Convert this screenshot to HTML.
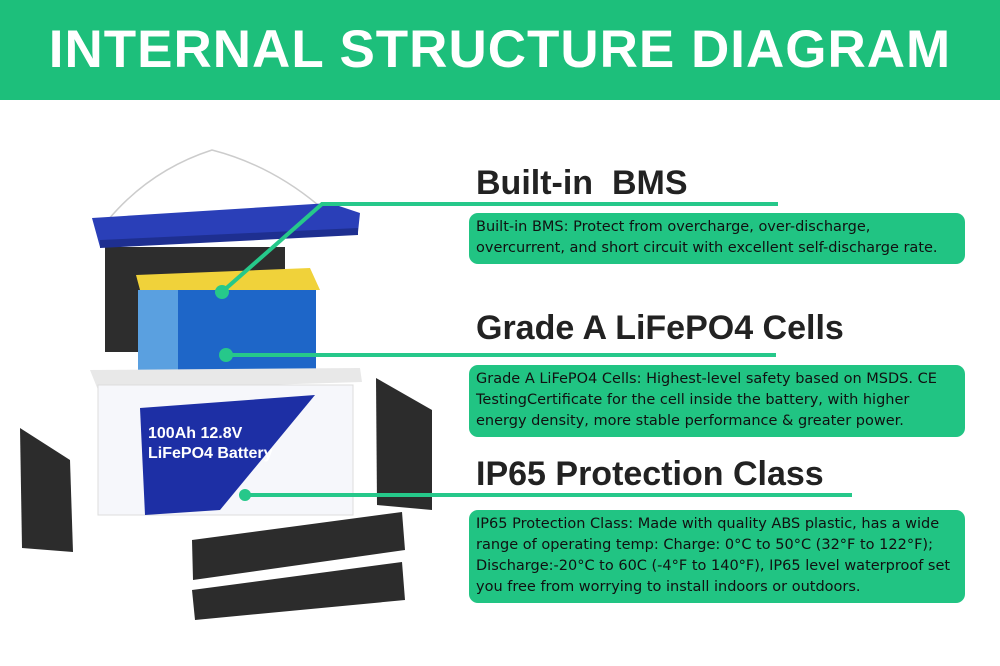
<!DOCTYPE html>
<html><head><meta charset="utf-8"><style>
body{margin:0;width:1000px;height:666px;position:relative;background:#fff;overflow:hidden;font-family:"Liberation Sans",sans-serif}
.hdr{position:absolute;left:0;top:0;width:1000px;height:100px;background:#1dbf7b;color:#fff;font-weight:bold;font-size:53px;text-align:center;line-height:100px;letter-spacing:1px}
.t{position:absolute;left:476px;font-weight:bold;font-size:34px;color:#222;white-space:nowrap}
.b{position:absolute;left:469px;width:482px;background:#21c483;border-radius:9px;padding:4px 7px 5px;font-family:"DejaVu Sans",sans-serif;font-size:14.5px;line-height:21px;color:#111;white-space:nowrap}
</style></head><body>
<div class="hdr">INTERNAL STRUCTURE DIAGRAM</div>
<svg width="1000" height="666" style="position:absolute;left:0;top:0">
<path d="M108 220 Q150 170 212 150 Q270 165 318 205" fill="none" stroke="#ccc" stroke-width="1.5"/>
<rect x="105" y="247" width="180" height="105" fill="#2d2d2d"/>
<polygon points="92,218 330,203 360,213 358,232 100,247" fill="#2a3fb8"/>
<polygon points="100,240 358,228 358,235 100,248" fill="#1e2f90"/>
<polygon points="136,275 310,268 320,290 140,290" fill="#f0d23a"/>
<rect x="138" y="290" width="178" height="80" fill="#1e66c8"/>
<rect x="138" y="290" width="40" height="80" fill="#5aa0e0"/>
<polygon points="90,370 360,368 362,382 98,390" fill="#e8e8e8"/>
<rect x="98" y="385" width="255" height="130" fill="#f6f7fb" stroke="#ddd"/>
<polygon points="140,408 315,395 220,510 145,515" fill="#1d2fa5"/>
<text x="148" y="438" fill="#fff" font-weight="bold" font-size="16">100Ah  12.8V</text>
<text x="148" y="458" fill="#fff" font-weight="bold" font-size="16">LiFePO4 Battery</text>
<polygon points="20,428 70,460 73,552 22,548" fill="#2c2c2c"/>
<polygon points="376,378 432,410 432,510 377,505" fill="#2c2c2c"/>
<polygon points="192,540 402,512 405,550 193,580" fill="#2c2c2c"/>
<polygon points="192,590 402,562 405,600 195,620" fill="#2c2c2c"/>
<g stroke="#26c88a" stroke-width="4" fill="none">
<polyline points="222,292 322,204 778,204"/>
<line x1="226" y1="355" x2="776" y2="355"/>
<line x1="245" y1="495" x2="852" y2="495"/>
</g>
<g fill="#26c88a"><circle cx="222" cy="292" r="7"/><circle cx="226" cy="355" r="7"/><circle cx="245" cy="495" r="6"/></g>
</svg>
<div class="t" style="top:164px">Built-in&nbsp; BMS</div>
<div class="t" style="top:309px">Grade A LiFePO4 Cells</div>
<div class="t" style="top:455px">IP65 Protection Class</div>
<div class="b" style="top:213px">Built-in BMS: Protect from overcharge, over-discharge,<br>overcurrent, and short circuit with excellent self-discharge rate.</div>
<div class="b" style="top:365px">Grade A LiFePO4 Cells: Highest-level safety based on MSDS. CE<br>TestingCertificate for the cell inside the battery, with higher<br>energy density, more stable performance &amp; greater power.</div>
<div class="b" style="top:510px">IP65 Protection Class: Made with quality ABS plastic, has a wide<br>range of operating temp: Charge: 0°C to 50°C (32°F to 122°F);<br>Discharge:-20°C to 60C (-4°F to 140°F), IP65 level waterproof set<br>you free from worrying to install indoors or outdoors.</div>
</body></html>
